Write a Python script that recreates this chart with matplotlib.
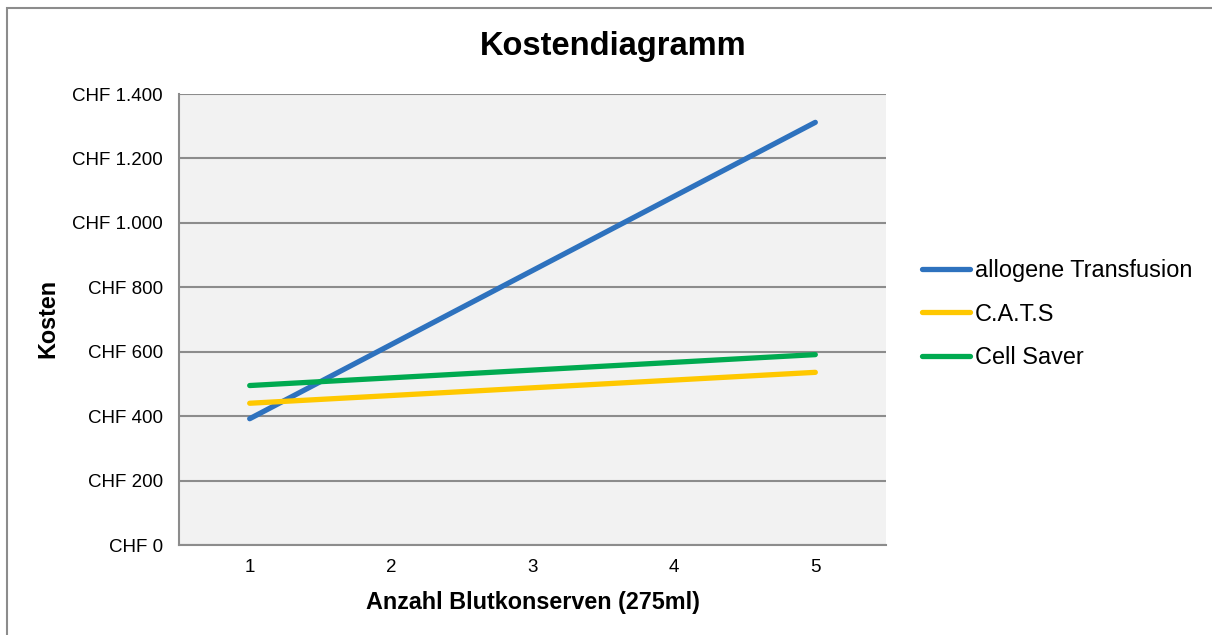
import matplotlib.pyplot as plt
from matplotlib.ticker import FuncFormatter, MultipleLocator
from matplotlib.patches import Rectangle

plt.rcParams['font.family'] = ['Liberation Sans', 'DejaVu Sans']

anzahl = [1, 2, 3, 4, 5]
allogen = [392, 622, 852, 1082, 1312]
cats = [440, 464, 488, 512, 536]
cell_saver = [495, 519, 543, 567, 591]

series = [
    ('allogene Transfusion', allogen, '#2E72BE'),
    ('C.A.T.S', cats, '#FFC800'),
    ('Cell Saver', cell_saver, '#00AA50'),
]

fig = plt.figure(figsize=(12.12, 6.35), dpi=100)
ax = fig.add_axes([179 / 1212, 1 - 545 / 635, (886 - 179) / 1212, (545 - 94) / 635])

# outer chart border (only left and top visible)
fig.patches.append(Rectangle((7 / 1212, -0.1), 1.2, 1 - 8 / 635 + 0.1,
                             transform=fig.transFigure, fill=False,
                             edgecolor='#8c8c8c', linewidth=1.5, zorder=0))

ax.set_facecolor('#F2F2F2')
for name, vals, col in series:
    ax.plot(anzahl, vals, color=col, linewidth=3.8, solid_capstyle='round', label=name, zorder=3)

ax.set_xlim(0.5, 5.5)
ax.set_ylim(0, 1400)
ax.yaxis.set_major_locator(MultipleLocator(200))
ax.set_xticks(anzahl)
ax.yaxis.set_major_formatter(FuncFormatter(lambda v, p: 'CHF ' + f'{int(v):,}'.replace(',', '.')))
ax.grid(axis='y', color='#8c8c8c', linewidth=1.5, zorder=1)
ax.tick_params(length=0, labelsize=13.5, colors='black')
ax.tick_params(axis='y', pad=11.5)
ax.tick_params(axis='x', pad=10)

for s in ['top', 'right']:
    ax.spines[s].set_visible(False)
for s in ['left', 'bottom']:
    ax.spines[s].set_color('#8c8c8c')
    ax.spines[s].set_linewidth(1.5)

fig.text(0.506, 1 - 47 / 635, 'Kostendiagramm', ha='center', va='center', fontsize=23.5, fontweight='bold')
fig.text(48 / 1212, 1 - 318 / 635, 'Kosten', ha='center', va='center', rotation=90, fontsize=16.8, fontweight='bold')
fig.text(533 / 1212, 1 - 602 / 635, 'Anzahl Blutkonserven (275ml)', ha='center', va='center', fontsize=16.8, fontweight='bold')

fig.legend(loc='center left', bbox_to_anchor=(922 / 1212, 1 - 314 / 635), frameon=False,
           fontsize=16.9, handlelength=2.05, handletextpad=0.2, labelspacing=0.88,
           borderaxespad=0, borderpad=0)

fig.savefig('out.png', dpi=100)
